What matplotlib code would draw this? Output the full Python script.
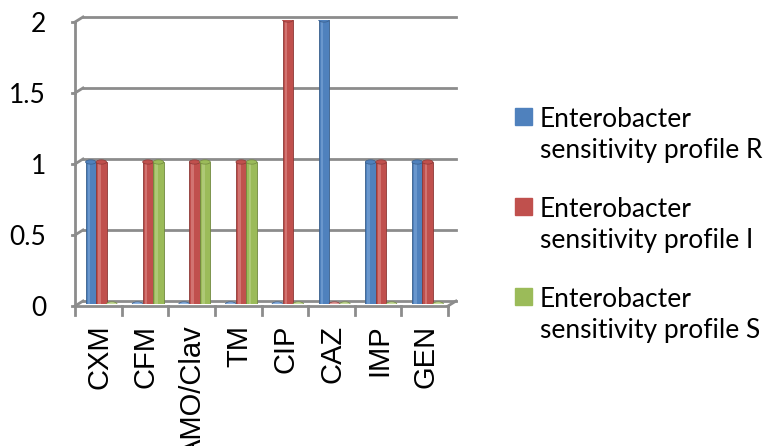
import matplotlib.pyplot as plt
from matplotlib.patches import Ellipse, Rectangle
from matplotlib.transforms import offset_copy, ScaledTranslation

# antibiotic panel and counts per sensitivity class
drugs = ["CXM", "CFM", "AMO/Clav", "TM", "CIP", "CAZ", "IMP", "GEN"]
resistant = [1, 0, 0, 0, 0, 2, 1, 1]
intermediate = [1, 1, 1, 1, 2, 0, 1, 1]
sensitive = [0, 1, 1, 1, 0, 0, 0, 0]

series_names = ["Enterobacter\nsensitivity profile R",
                "Enterobacter\nsensitivity profile I",
                "Enterobacter\nsensitivity profile S"]
colors = ["#4F81BD", "#C0504D", "#9BBB59"]
highlights = ["#8DB3E2", "#E6A09E", "#C7DC9A"]
darks = ["#385D8A", "#8C3836", "#71893F"]
yticks = [0, 0.5, 1, 1.5, 2]

W, H = 769, 446
fig = plt.figure(figsize=(W / 100, H / 100), dpi=100)
ax = fig.add_axes([78 / W, (H - 304) / H, 373 / W, 284 / H])
ax.set_xlim(-0.5, len(drugs) - 0.5)
ax.set_ylim(0, 2)
for s in ax.spines.values():
    s.set_visible(False)

grid_c = "#8C8C8C"
back = offset_copy(ax.transData, fig, x=5, y=3, units="dots")
front = offset_copy(ax.transData, fig, x=-3, y=-2, units="dots")
x0, x1 = -0.5, len(drugs) - 0.5

# back wall gridlines with the short slant to the side wall
for v in yticks:
    ax.plot([x0, x1], [v, v], color=grid_c, lw=2, transform=back, clip_on=False, zorder=1)
    xa, ya = front.transform((x0, v))
    xb, yb = back.transform((x0, v))
    fig.add_artist(plt.Line2D([xa / W, xb / W], [ya / H, yb / H], color=grid_c, lw=2))
    fig.add_artist(plt.Line2D([(xa - 3) / W, xa / W], [ya / H, ya / H], color=grid_c, lw=2))

# side wall edge and floor
ax.plot([x0, x0], [0, 2], color=grid_c, lw=2, transform=front, clip_on=False, zorder=1)
ax.plot([x0, x1], [0, 0], color=grid_c, lw=2, transform=front, clip_on=False, zorder=1)
xa, ya = front.transform((x1, 0))
xb, yb = back.transform((x1, 0))
fig.add_artist(plt.Line2D([xa / W, xb / W], [ya / H, yb / H], color=grid_c, lw=2))
for k in range(len(drugs) + 1):
    xt, yt = front.transform((k - 0.5, 0))
    fig.add_artist(plt.Line2D([xt / W, xt / W], [yt / H, (yt - 9) / H], color=grid_c, lw=2))

# cylinder-style bars
bw = 0.225
cap_h = 0.03
for j, vals in enumerate([resistant, intermediate, sensitive]):
    for i, v in enumerate(vals):
        xc = i + (j - 1) * bw
        ax.bar(xc, v, width=bw, color=colors[j], edgecolor=darks[j], lw=0.6, zorder=3)
        if v > 0:
            ax.add_patch(Rectangle((xc - bw * 0.3, 0), bw * 0.25, v,
                                   color=highlights[j], alpha=0.45, lw=0, zorder=4))
        ax.add_patch(Ellipse((xc, v), bw, cap_h, facecolor=highlights[j] if v == 0 else colors[j],
                             edgecolor=darks[j], lw=0.5, zorder=5))

ax.set_yticks(yticks, ["0", "0.5", "1", "1.5", "2"])
ax.tick_params(axis="y", length=0, pad=23, labelsize=19)
for lbl in ax.get_yticklabels():
    lbl.set_fontfamily("Lato")
    lbl.set_transform(lbl.get_transform() + ScaledTranslation(0, -0.02, fig.dpi_scale_trans))

ax.set_xticks(range(len(drugs)), drugs, rotation=90)
ax.tick_params(axis="x", length=0, pad=15, labelsize=21)
for lbl in ax.get_xticklabels():
    lbl.set_fontfamily("Liberation Sans")
    lbl.set_transform(lbl.get_transform() + ScaledTranslation(-0.02, 0, fig.dpi_scale_trans))

# legend on the right, square beside the first line of each label
for j, name in enumerate(series_names):
    top = 108 + 90 * j
    fig.patches.append(Rectangle((515 / W, (H - top - 17) / H), 17 / W, 17 / H,
                                 transform=fig.transFigure, color=colors[j]))
    first, second = name.split("\n")
    fig.text(540 / W, (H - 127 - 90 * j) / H, first, fontsize=19, family="Lato", va="baseline")
    fig.text(540 / W, (H - 158 - 90 * j) / H, second, fontsize=19, family="Lato", va="baseline")

fig.savefig("out.png", dpi=100)
